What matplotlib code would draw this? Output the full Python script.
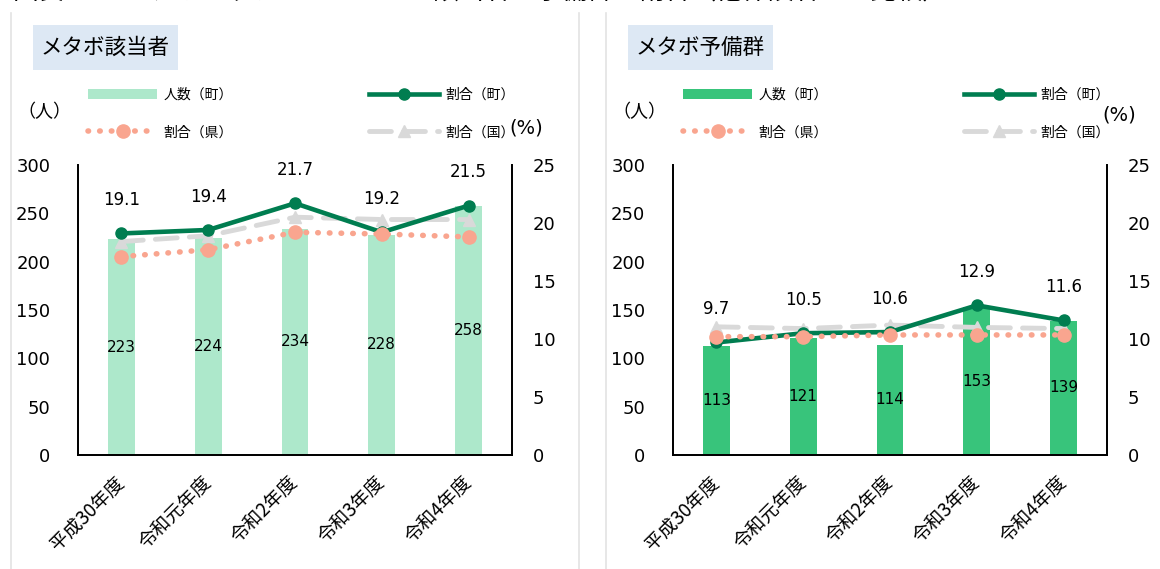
import matplotlib
matplotlib.use('Agg')
import matplotlib.pyplot as plt
from matplotlib.lines import Line2D
from matplotlib.patches import Patch, Rectangle

plt.rcParams['font.family'] = ['DejaVu Sans', 'Noto Sans CJK JP']

# ---- data ----
years = ['平成30年度', '令和元年度', '令和2年度', '令和3年度', '令和4年度']

gaito_count = [223, 224, 234, 228, 258]
gaito_town = [19.1, 19.4, 21.7, 19.2, 21.5]
gaito_pref = [17.1, 17.7, 19.2, 19.05, 18.8]
gaito_nat = [18.4, 18.9, 20.5, 20.3, 20.3]

yobi_count = [113, 121, 114, 153, 139]
yobi_town = [9.7, 10.5, 10.6, 12.9, 11.6]
yobi_pref = [10.2, 10.2, 10.35, 10.35, 10.35]
yobi_nat = [11.05, 10.9, 11.2, 11.0, 10.9]

legend_labels = ['人数（町）', '割合（県）', '割合（町）', '割合（国）']
panel_titles = ['メタボ該当者', 'メタボ予備群']
fig_title = '図表3-7-3メタボリックシンドローム該当者・予備群の割合（他保険者との比較）'

# ---- styles ----
W, H = 1160, 569
GREEN = '#007D50'
SALMON = '#F9A58F'
GRAY = '#D9D9D9'
BAR_COLORS = ['#ADE8CB', '#38C47B']
BOX_BG = '#DDE8F4'
JP = ['Noto Sans CJK JP', 'DejaVu Sans']

fig = plt.figure(figsize=(W / 100, H / 100), dpi=100)


def fx(px):
    return px / W


def fy(py):
    return 1 - py / H


# top (cropped) figure title
fig.text(fx(13), fy(-1.0), fig_title, fontsize=18.5, ha='left', va='baseline', family=JP)

# panel frame lines
for xpx in (11, 579, 606):
    fig.add_artist(Line2D([fx(xpx), fx(xpx)], [fy(13), 0], color='#E3E3E3', lw=1.2))


def draw_panel(left_px, counts, town, pref, nat, bar_color, title, pct_pos):
    ax = fig.add_axes([fx(left_px), fy(455), fx(434), (455 - 165) / H])
    x = list(range(len(years)))
    ax.bar(x, counts, width=0.31, color=bar_color, zorder=2)
    ax.set_xlim(-0.5, len(years) - 0.5)
    ax.set_ylim(0, 300)
    ax.set_yticks(range(0, 301, 50))
    ax.set_xticks(x)
    ax.set_xticklabels(years, rotation=45, ha='right', va='center', rotation_mode='anchor',
                       fontsize=13.5, family=JP)
    ax.tick_params(axis='y', length=0, pad=20, labelsize=13)
    ax.tick_params(axis='x', length=0, pad=18)
    for i, c in enumerate(counts):
        ax.text(i, c / 2, str(c), ha='center', va='center', fontsize=11, zorder=3)

    ax2 = ax.twinx()
    ax2.set_ylim(0, 25)
    ax2.set_yticks(range(0, 26, 5))
    ax2.tick_params(axis='y', length=0, pad=15, labelsize=13)

    ax2.plot(x, nat, color=GRAY, lw=3.5, ls=(0, (4.5, 2.5)), dash_capstyle='round',
             marker='^', ms=9, zorder=3)
    ax2.plot(x, town, color=GREEN, lw=3.3, marker='o', ms=8, zorder=4)
    ax2.plot(x, pref, color=SALMON, lw=4, ls=(0, (0.1, 2.0)), dash_capstyle='round',
             marker='o', ms=9.5, zorder=5)
    for i, v in enumerate(town):
        ax2.annotate(f'{v:.1f}', (i, v), xytext=(0, 24), textcoords='offset points',
                     ha='center', va='center', fontsize=12)

    for a in (ax, ax2):
        a.spines['top'].set_visible(False)
        for s in ('left', 'right', 'bottom'):
            a.spines[s].set_color('black')
            a.spines[s].set_linewidth(1.3)

    handles = [
        Patch(facecolor=bar_color, edgecolor='none'),
        Line2D([], [], color=SALMON, lw=4, ls=(0, (0.1, 2.0)), dash_capstyle='round',
               marker='o', ms=9.5),
        Line2D([], [], color=GREEN, lw=3.3, marker='o', ms=8),
        Line2D([], [], color=GRAY, lw=3.5, ls=(0, (4.5, 2.5)), dash_capstyle='round',
               marker='^', ms=9),
    ]
    fig.legend(handles, legend_labels, ncol=2, loc='upper left',
               bbox_to_anchor=(fx(left_px + 10), fy(88)), frameon=False,
               prop={'family': JP, 'size': 10},
               handlelength=5.0, handletextpad=0.45, columnspacing=9.8,
               labelspacing=1.68, borderpad=0, borderaxespad=0, numpoints=1)

    # title box
    bx0 = left_px - 45
    fig.add_artist(Rectangle((fx(bx0), fy(70)), fx(145), 45 / H,
                             facecolor=BOX_BG, edgecolor='none'))
    fig.text(fx(bx0 + 72.5), fy(47.5), title, ha='center', va='center', fontsize=15.5,
             family=JP)
    fig.text(fx(left_px - 34), fy(112), '（人）', ha='center', va='center', fontsize=13,
             family=JP)
    fig.text(fx(pct_pos[0]), fy(pct_pos[1]), '(%)', ha='center', va='center', fontsize=14)
    return ax, ax2


draw_panel(78, gaito_count, gaito_town, gaito_pref, gaito_nat, BAR_COLORS[0],
           panel_titles[0], (526, 128))
draw_panel(673, yobi_count, yobi_town, yobi_pref, yobi_nat, BAR_COLORS[1],
           panel_titles[1], (1119, 115))

fig.savefig('out.png', dpi=100)
